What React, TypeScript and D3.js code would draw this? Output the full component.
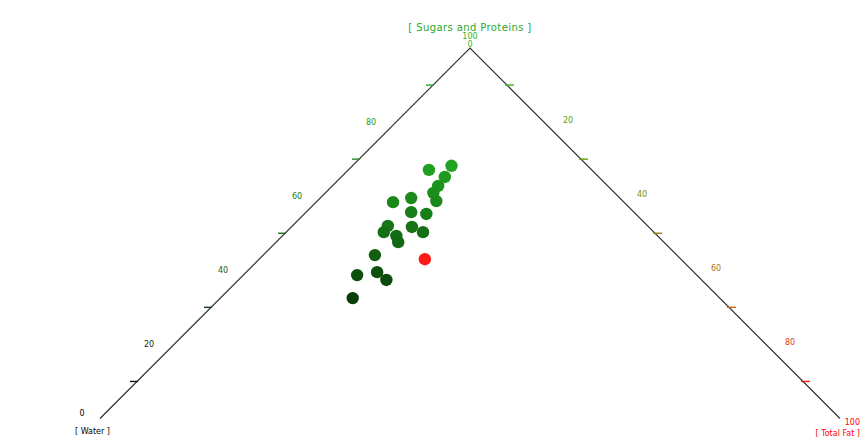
import React from "react";
import * as d3 from "d3";

// Composition of each sample, in percent: top corner share and right corner share.
// The left corner share is what remains.
const topShare = [67.1, 68.2, 65.2, 62.8, 60.9, 58.7, 59.5, 58.4, 55.7, 55.2, 52.0, 50.3, 51.7, 50.3, 49.3, 47.6, 44.1, 43.0, 38.7, 39.5, 37.4, 32.5];
const rightShare = [10.9, 13.4, 14.0, 14.3, 14.6, 16.1, 12.3, 10.4, 14.2, 16.5, 12.9, 13.2, 16.3, 18.5, 15.4, 16.5, 15.1, 22.4, 15.4, 17.7, 20.0, 17.9];
const flagged = [false, false, false, false, false, false, false, false, false, false, false, false, false, false, false, false, false, true, false, false, false, false];

const cornerLabels = ["[ Water ]", "[ Sugars and Proteins ]", "[ Total Fat ]"];
const tickValues = [10, 30, 50, 70, 90];
const labelValues = [20, 40, 60, 80];

const W = 861;
const H = 439;

export default function App() {
  const left = { x: 100, y: 418.5 };
  const apex = { x: 470, y: 48 };
  const right = { x: 840, y: 418.5 };

  // vertical position follows the top-corner share
  const yScale = d3.scaleLinear().domain([0, 100]).range([left.y, apex.y]);
  // horizontal position: left corner + half of top share + full right share
  const xScale = d3.scaleLinear().domain([0, 100]).range([0, right.x - left.x]);

  const pos = (top: number, r: number) => ({
    x: left.x + xScale(top) / 2 + xScale(r),
    y: yScale(top),
  });

  const leftColor = d3.scaleLinear<string>().domain([0, 40, 100]).range(["#000000", "#1c5a1c", "#2ab82a"]);
  const rightColor = d3.scaleLinear<string>().domain([0, 40, 70, 100]).range(["#2ab82a", "#7a9000", "#d0601a", "#ff0000"]);
  const pointColor = d3.scaleLinear<string>().domain([30, 70]).range(["#073607", "#22a822"]);

  const font = "DejaVu Sans, sans-serif";
  const fs = 8;

  const trianglePath = d3.line()([
    [left.x, left.y],
    [apex.x, apex.y],
    [right.x, right.y],
  ]);

  return (
    <svg width={W} height={H} style={{ position: "absolute", left: 0, top: 0, background: "#fff" }} fontFamily={font}>
      <path d={trianglePath || ""} fill="none" stroke="#333" strokeWidth={1.2} />

      {/* left edge: top share from 0 (bottom) to 100 (apex) */}
      {tickValues.map((v) => {
        const p = pos(v, 0);
        return <line key={"lt" + v} x1={p.x - 7} x2={p.x + 1} y1={p.y} y2={p.y} stroke={leftColor(v)} strokeWidth={1.4} />;
      })}
      {labelValues.map((v) => {
        const p = pos(v, 0);
        return (
          <text key={"ll" + v} x={p.x - 25} y={p.y} fontSize={fs} fill={leftColor(v)} textAnchor="middle" dominantBaseline="middle">
            {v}
          </text>
        );
      })}

      {/* right edge: right share from 0 (apex) to 100 (bottom) */}
      {tickValues.map((v) => {
        const p = pos(100 - v, v);
        return <line key={"rt" + v} x1={p.x - 2} x2={p.x + 7} y1={p.y} y2={p.y} stroke={rightColor(v)} strokeWidth={1.4} />;
      })}
      {labelValues.map((v) => {
        const p = pos(100 - v, v);
        return (
          <text key={"rl" + v} x={p.x + 24} y={p.y - 2} fontSize={fs} fill={rightColor(v)} textAnchor="middle" dominantBaseline="middle">
            {v}
          </text>
        );
      })}

      {/* corner values and titles */}
      <text x={apex.x} y={apex.y - 12} fontSize={fs} fill={leftColor(100)} textAnchor="middle" dominantBaseline="middle">100</text>
      <text x={apex.x} y={apex.y - 4} fontSize={fs} fill={rightColor(0)} textAnchor="middle" dominantBaseline="middle">0</text>
      <text x={apex.x} y={apex.y - 17} fontSize={10} letterSpacing={0.4} fill="#2aa82a" textAnchor="middle">{cornerLabels[1]}</text>

      <text x={82} y={413} fontSize={fs} fill="#000" textAnchor="middle" dominantBaseline="middle">0</text>
      <text x={75} y={434} fontSize={fs} fill="#000">{cornerLabels[0]}</text>

      <text x={860} y={425} fontSize={fs} fill={rightColor(100)} textAnchor="end">100</text>
      <text x={860} y={436} fontSize={fs} fill="#ff0000" textAnchor="end">{cornerLabels[2]}</text>

      {/* samples */}
      {topShare.map((t, i) => {
        const p = pos(t, rightShare[i]);
        return <circle key={"p" + i} cx={p.x} cy={p.y} r={6.2} fill={flagged[i] ? "#ff1a1a" : pointColor(t)} />;
      })}
    </svg>
  );
}
